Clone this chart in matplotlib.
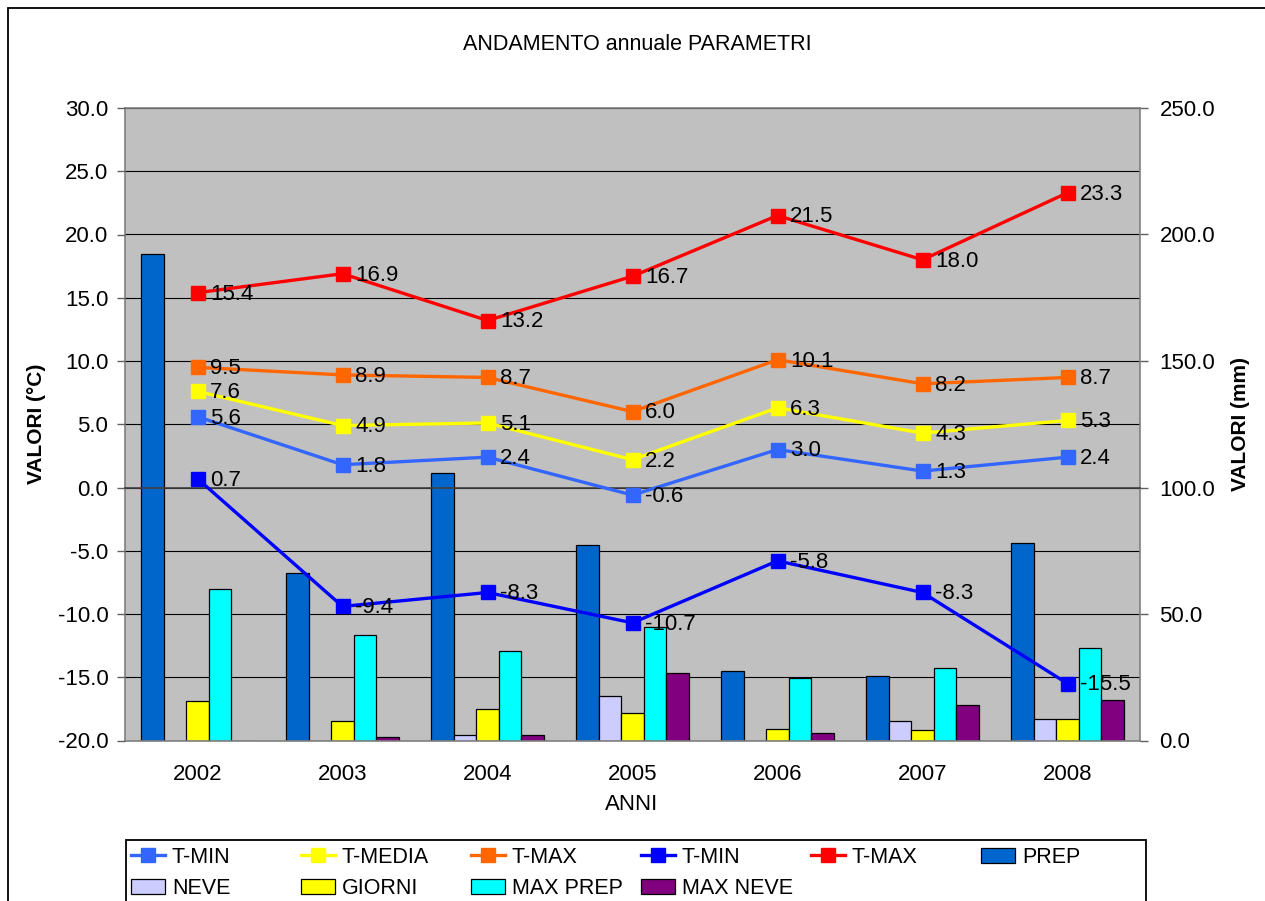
import matplotlib.pyplot as plt
from matplotlib.patches import Rectangle
from matplotlib.ticker import MultipleLocator, FormatStrFormatter

plt.rcParams['font.family'] = ['Liberation Sans', 'DejaVu Sans']

# dati
anni = ['2002', '2003', '2004', '2005', '2006', '2007', '2008']

t_min = [5.6, 1.8, 2.4, -0.6, 3.0, 1.3, 2.4]
t_media = [7.6, 4.9, 5.1, 2.2, 6.3, 4.3, 5.3]
t_max = [9.5, 8.9, 8.7, 6.0, 10.1, 8.2, 8.7]
t_min_ass = [0.7, -9.4, -8.3, -10.7, -5.8, -8.3, -15.5]
t_max_ass = [15.4, 16.9, 13.2, 16.7, 21.5, 18.0, 23.3]

prep = [192.2, 66.3, 105.7, 77.3, 27.4, 25.6, 78.0]
neve = [0, 0, 2.0, 17.6, 0, 7.8, 8.6]
giorni = [15.7, 7.8, 12.3, 10.7, 4.4, 4.3, 8.6]
max_prep = [60.0, 41.8, 35.4, 45.0, 24.6, 28.5, 36.6]
max_neve = [0, 1.3, 2.0, 26.8, 2.8, 14.0, 15.9]

linee = [
    ('T-MIN', t_min, '#3366FF'),
    ('T-MEDIA', t_media, '#FFFF00'),
    ('T-MAX', t_max, '#FF6600'),
    ('T-MIN', t_min_ass, '#0000FF'),
    ('T-MAX', t_max_ass, '#FF0000'),
]
barre = [
    ('PREP', prep, '#0066CC'),
    ('NEVE', neve, '#CCCCFF'),
    ('GIORNI', giorni, '#FFFF00'),
    ('MAX PREP', max_prep, '#00FFFF'),
    ('MAX NEVE', max_neve, '#800080'),
]

W, H = 1265, 901
fig = plt.figure(figsize=(W / 100, H / 100), dpi=100)
fig.subplots_adjust(left=125 / W, right=1140 / W, top=1 - 108 / H, bottom=1 - 740.5 / H)
ax = fig.add_subplot(111)
ax2 = ax.twinx()

fs = 16
x = list(range(len(anni)))

# barre (scala destra, mm)
w = 0.156
handles = {}
for k, (nome, vals, col) in enumerate(barre):
    pos = [xi + (k - 2) * w for xi in x]
    b = ax.bar(pos, vals, width=w, color=col, edgecolor='black', linewidth=0.9, zorder=2)
    handles[nome] = b
ax.set_ylim(0, 250)
ax.set_xlim(-0.5, len(anni) - 0.5)
ax.set_facecolor('#C0C0C0')
ax.yaxis.tick_right()
ax.yaxis.set_major_locator(MultipleLocator(50))
ax.yaxis.set_minor_locator(MultipleLocator(25))
ax.yaxis.set_major_formatter(FormatStrFormatter('%.1f'))
ax.grid(axis='y', which='both', color='black', linewidth=0.8, zorder=0)
ax.set_axisbelow(True)
ax.tick_params(axis='y', which='major', length=6, width=1, color='#606060', pad=8, labelsize=fs)
ax.tick_params(axis='y', which='minor', length=0)
ax.set_xticks([i - 0.5 for i in range(len(anni) + 1)])
ax.set_xticks(x, labels=anni, minor=True)
ax.tick_params(axis='x', which='major', length=0, labelbottom=False)
ax.tick_params(axis='x', which='minor', length=0, pad=17, labelsize=fs)
for s in ax.spines.values():
    s.set_color('#808080')
    s.set_linewidth(1.2)

# linee (scala sinistra, gradi)
lh = []
for nome, vals, col in linee:
    l, = ax2.plot(x, vals, color=col, linewidth=2.4, marker='s', markersize=10,
                  markeredgecolor=col, label=nome, zorder=3)
    lh.append(l)
    for xi, v in zip(x, vals):
        ax2.annotate(f'{v:.1f}', (xi, v), xytext=(9, -1), textcoords='offset points',
                     ha='left', va='center', fontsize=fs, color='black', zorder=4)
ax2.set_ylim(-20, 30)
ax2.yaxis.tick_left()
ax2.yaxis.set_major_locator(MultipleLocator(5))
ax2.yaxis.set_major_formatter(FormatStrFormatter('%.1f'))
ax2.tick_params(axis='y', length=6, width=1, color='#606060', pad=6, labelsize=fs)
ax2.patch.set_visible(False)
ax2.spines['bottom'].set_position(('data', 0))
ax2.spines['bottom'].set_color('#404040')
ax2.spines['bottom'].set_linewidth(1.2)
for s in ['top', 'right', 'left']:
    ax2.spines[s].set_visible(False)
ax2.tick_params(axis='x', which='both', labelbottom=False)
ax2.tick_params(axis='x', which='major', length=5, width=1, color='#404040', direction='out')
ax2.tick_params(axis='x', which='minor', length=0)

# testi
fig.text(637 / W, 1 - 44 / H, 'ANDAMENTO annuale PARAMETRI', ha='center', va='center', fontsize=15.5)
fig.text(37 / W, 1 - 424 / H, 'VALORI (°C)', rotation=90, ha='center', va='center',
         fontsize=15, fontweight='bold')
fig.text(1240 / W, 1 - 424 / H, 'VALORI (mm)', rotation=90, ha='center', va='center',
         fontsize=15, fontweight='bold')
fig.text(632 / W, 1 - 805 / H, 'ANNI', ha='center', va='center', fontsize=fs)

# cornice del grafico e della legenda
fig.patches.append(Rectangle((8 / W, -0.1), 1.2, 1.1 - 8 / H, transform=fig.transFigure,
                             fill=False, edgecolor='black', linewidth=1.3))
fig.patches.append(Rectangle((126 / W, -0.1), (1146 - 126) / W, 0.1 + 1 - 840 / H,
                             transform=fig.transFigure, fill=False, edgecolor='black',
                             linewidth=1.3))

# legenda a colonne regolari
colonne = [
    [(lh[0], 'T-MIN'), (handles['NEVE'], 'NEVE')],
    [(lh[1], 'T-MEDIA'), (handles['GIORNI'], 'GIORNI')],
    [(lh[2], 'T-MAX'), (handles['MAX PREP'], 'MAX PREP')],
    [(lh[3], 'T-MIN'), (handles['MAX NEVE'], 'MAX NEVE')],
    [(lh[4], 'T-MAX')],
    [(handles['PREP'], 'PREP')],
]
for k, col in enumerate(colonne):
    leg = fig.legend([h for h, _ in col], [t for _, t in col], loc='upper left',
                     bbox_to_anchor=((131 + 170 * k) / W, 1 - 847 / H), frameon=False,
                     fontsize=15.5, handlelength=1.6, handletextpad=0.3, borderpad=0,
                     borderaxespad=0, labelspacing=0.45)

fig.savefig('out.png', dpi=100)
